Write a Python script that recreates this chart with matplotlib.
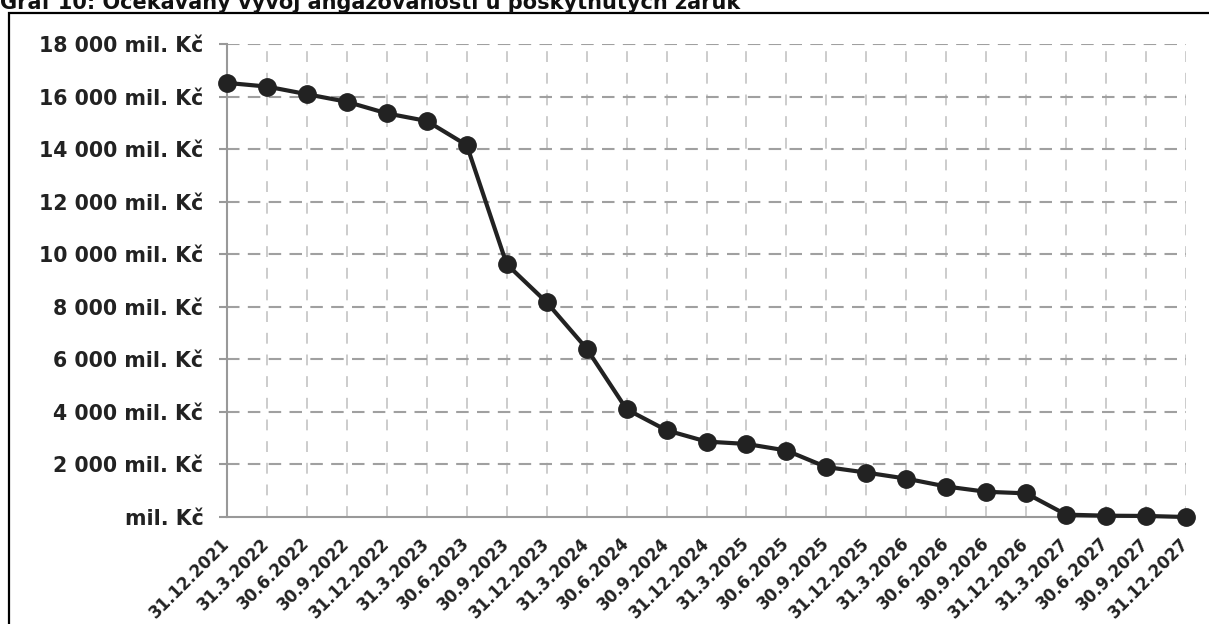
import matplotlib
matplotlib.use("Agg")
import matplotlib.pyplot as plt
from matplotlib.patches import Rectangle

title = "Graf 10: Očekávaný vývoj angažovanosti u poskytnutých záruk"
dates = ["31.12.2021", "31.3.2022", "30.6.2022", "30.9.2022", "31.12.2022",
         "31.3.2023", "30.6.2023", "30.9.2023", "31.12.2023", "31.3.2024",
         "30.6.2024", "30.9.2024", "31.12.2024", "31.3.2025", "30.6.2025",
         "30.9.2025", "31.12.2025", "31.3.2026", "30.6.2026", "30.9.2026",
         "31.12.2026", "31.3.2027", "30.6.2027", "30.9.2027", "31.12.2027"]
values = [16520, 16380, 16090, 15800, 15360, 15070, 14150, 9620, 8170, 6410,
          4100, 3300, 2870, 2780, 2530, 1900, 1690, 1460, 1160, 960,
          900, 90, 50, 40, 0]
yticks = [0, 2000, 4000, 6000, 8000, 10000, 12000, 14000, 16000, 18000]
ytick_labels = ["mil. Kč"] + [f"{v // 1000} 000 mil. Kč" for v in yticks[1:]]

W, H = 1209, 624
fig = plt.figure(figsize=(W / 100, H / 100), dpi=100)
fig.patch.set_facecolor("white")

FONT = "DejaVu Sans"
fig.text(0.0, 1 - 9 / H, title, fontsize=15, fontweight="bold", family=FONT,
         ha="left", va="baseline", color="#111111")
fig.patches.append(Rectangle((9 / W, -0.05), 1.1, 1 - 13 / H + 0.05,
                             transform=fig.transFigure, fill=False,
                             edgecolor="black", linewidth=1.6))

left, right = 227 / W, 1186 / W
top, bottom = 1 - 44 / H, 1 - 517 / H
ax = fig.add_axes([left, bottom, right - left, top - bottom])
x = list(range(len(dates)))

ax.set_xlim(0, len(dates) - 1)
ax.set_ylim(0, 18000)

for xi in x[1:]:
    ax.axvline(xi, color="#c8c8c8", linewidth=1.3, linestyle=(0, (6, 6)), zorder=1)
for yv in yticks[1:]:
    ax.axhline(yv, color="#a0a0a0", linewidth=1.5, linestyle=(0, (6, 4)), zorder=1)

ax.plot(x, values, color="#222222", linewidth=3, marker="o", markersize=12.5,
        zorder=3, clip_on=False)

for s in ["top", "right"]:
    ax.spines[s].set_visible(False)
for s in ["left", "bottom"]:
    ax.spines[s].set_color("#999999")
    ax.spines[s].set_linewidth(1.5)

ax.set_yticks(yticks)
ax.set_yticklabels(ytick_labels, fontsize=14.8, fontweight="bold", family=FONT,
                   color="#222222")
ax.tick_params(axis="y", length=6, width=1.5, color="#999999", pad=11)

ax.set_xticks(x)
ax.set_xticklabels(dates, fontsize=12, fontweight="bold", family=FONT,
                   color="#222222", rotation=45, ha="right", va="center",
                   rotation_mode="anchor")
ax.tick_params(axis="x", length=0, pad=17)
ax.set_xticks(x[::2], minor=True)
ax.tick_params(axis="x", which="minor", length=6, width=1.5, color="#999999")

fig.savefig("out.png", dpi=100)
